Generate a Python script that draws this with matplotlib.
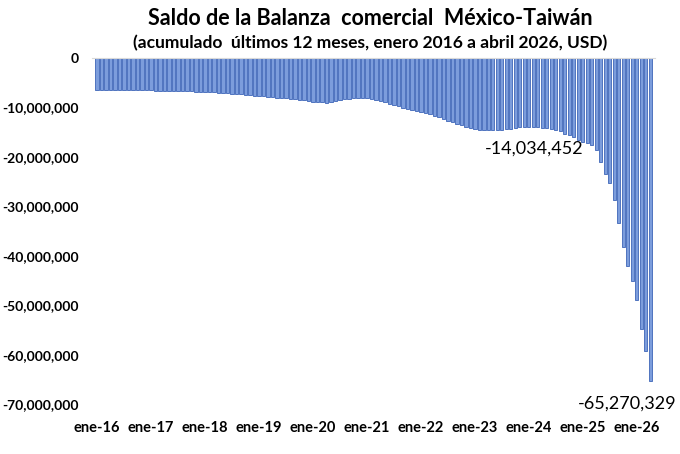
import matplotlib.pyplot as plt
from matplotlib.ticker import FuncFormatter

plt.rcParams['font.family'] = ['Lato', 'DejaVu Sans']

# saldo acumulado 12 meses, USD, ene-2016 .. abr-2026
saldo = [
    # 2016
    -6.40e6, -6.42e6, -6.45e6, -6.43e6, -6.47e6, -6.50e6, -6.48e6, -6.50e6, -6.52e6, -6.55e6, -6.53e6, -6.55e6,
    # 2017
    -6.55e6, -6.58e6, -6.60e6, -6.62e6, -6.63e6, -6.65e6, -6.68e6, -6.70e6, -6.72e6, -6.75e6, -6.78e6, -6.80e6,
    # 2018
    -6.85e6, -6.90e6, -6.95e6, -7.00e6, -7.05e6, -7.10e6, -7.20e6, -7.28e6, -7.35e6, -7.45e6, -7.55e6, -7.62e6,
    # 2019
    -7.70e6, -7.75e6, -7.82e6, -7.90e6, -7.98e6, -8.05e6, -8.15e6, -8.25e6, -8.35e6, -8.45e6, -8.55e6, -8.70e6,
    # 2020
    -8.80e6, -8.88e6, -8.95e6, -9.00e6, -8.95e6, -8.75e6, -8.50e6, -8.35e6, -8.20e6, -8.05e6, -8.00e6, -8.05e6,
    # 2021
    -8.10e6, -8.25e6, -8.45e6, -8.70e6, -8.95e6, -9.20e6, -9.50e6, -9.75e6, -10.00e6, -10.20e6, -10.45e6, -10.70e6,
    # 2022
    -10.90e6, -11.15e6, -11.40e6, -11.70e6, -12.00e6, -12.35e6, -12.70e6, -13.00e6, -13.30e6, -13.60e6, -13.85e6, -14.10e6,
    # 2023
    -14.30e6, -14.45e6, -14.55e6, -14.60e6, -14.60e6, -14.55e6, -14.45e6, -14.35e6, -14.25e6, -14.10e6, -13.95e6, -13.85e6,
    # 2024
    -14034452, -13.95e6, -14.00e6, -14.10e6, -14.20e6, -14.40e6, -14.60e6, -14.80e6, -15.30e6, -15.60e6, -15.90e6, -16.60e6,
    # 2025
    -16.90e6, -17.20e6, -17.50e6, -18.60e6, -21.00e6, -23.50e6, -25.20e6, -28.70e6, -33.30e6, -38.30e6, -42.10e6, -45.10e6,
    # 2026
    -48.90e6, -54.90e6, -59.20e6, -65270329,
]
anios = ['16', '17', '18', '19', '20', '21', '22', '23', '24', '25', '26']
etiquetas = ['ene-' + a for a in anios]
destacados = [96, len(saldo) - 1]

fig = plt.figure(figsize=(6.8, 4.54), dpi=100)
ax = fig.add_axes([0.136, 0.110, 0.827, 0.762])

x = list(range(len(saldo)))
ax.bar(x, saldo, width=0.72, color='#7C9DDC', edgecolor='#3E65B8', linewidth=0.6)

ax.set_xlim(-1, len(saldo))
ax.set_ylim(-70e6, 0)
ax.set_yticks(range(-70000000, 1, 10000000))
ax.yaxis.set_major_formatter(FuncFormatter(lambda v, p: '{:,.0f}'.format(v)))
ax.set_xticks([12 * i for i in range(len(etiquetas))])
ax.set_xticklabels(etiquetas)
ax.tick_params(length=0)
ax.tick_params(axis='x', pad=12, labelsize=10.5)
ax.tick_params(axis='y', pad=10, labelsize=10)
for t in ax.get_xticklabels() + ax.get_yticklabels():
    t.set_fontweight('bold')

for s in ['left', 'right', 'bottom']:
    ax.spines[s].set_visible(False)
ax.spines['top'].set_color('#d9d9d9')

# etiquetas de valor
ax.annotate('{:,.0f}'.format(saldo[destacados[0]]), xy=(destacados[0], saldo[destacados[0]]),
            xytext=(5, -21), textcoords='offset pixels', ha='center', va='center', fontsize=13)
ax.annotate('{:,.0f}'.format(saldo[destacados[1]]), xy=(destacados[1], saldo[destacados[1]]),
            xytext=(-23, -23), textcoords='offset pixels', ha='center', va='center', fontsize=13,
            annotation_clip=False)

fig.text(0.545, 0.960, 'Saldo de la Balanza  comercial  México-Taiwán', ha='center', va='center',
         fontsize=15.5, fontweight='bold')
fig.text(0.545, 0.905, '(acumulado  últimos 12 meses, enero 2016 a abril 2026, USD)', ha='center',
         va='center', fontsize=12.5, fontweight='bold')

fig.savefig('out.png', dpi=100)
